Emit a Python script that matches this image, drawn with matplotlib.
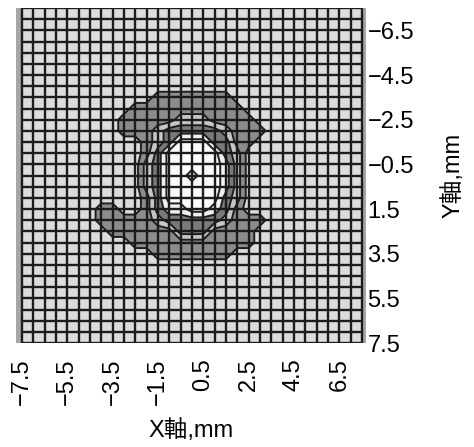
import numpy as np
import matplotlib
matplotlib.use("Agg")
import matplotlib.pyplot as plt

plt.rcParams['font.family'] = ['Liberation Sans', 'Noto Sans CJK JP', 'DejaVu Sans']

# band index at 0.5 mm steps (rows: Y from -7.5 to 7.5, cols: X from -7.5 to 7.5)
band_rows = [
    "0000000000000000000000000000000",
    "0000000000000000000000000000000",
    "0000000000000000000000000000000",
    "0000000000000000000000000000000",
    "0000000000000000000000000000000",
    "0000000000000000000000000000000",
    "0000000000000000000000000000000",
    "0000000000000000000000000000000",
    "0000000000001111111000000000000",
    "0000000000111111111100000000000",
    "0000000001111122211110000000000",
    "0000000001112333332111000000000",
    "0000000000012355533110000000000",
    "0000000000013555553200000000000",
    "0000000000023555554200000000000",
    "0000000000023554554200000000000",
    "0000000000023555554200000000000",
    "0000000000013555553200000000000",
    "0000000110013445543100000000000",
    "0000000111112333332111000000000",
    "0000000011111133311110000000000",
    "0000000000111111111110000000000",
    "0000000000001111111000000000000",
    "0000000000000000000000000000000",
    "0000000000000000000000000000000",
    "0000000000000000000000000000000",
    "0000000000000000000000000000000",
    "0000000000000000000000000000000",
    "0000000000000000000000000000000",
    "0000000000000000000000000000000",
    "0000000000000000000000000000000",
]
band_colors = ["#dcdcdc", "#8c8c8c", "#c6c6c6", "#7a7a7a", "#f0f0f0", "#fbfbfb"]

x_ticks = [-7.5, -5.5, -3.5, -1.5, 0.5, 2.5, 4.5, 6.5]
y_ticks = [-6.5, -4.5, -2.5, -0.5, 1.5, 3.5, 5.5, 7.5]
x_label = "X軸,mm"
y_label = "Y軸,mm"

Z = np.array([[int(c) for c in r] for r in band_rows], dtype=float)
ny, nx = Z.shape
xs = np.linspace(-7.5, 7.5, nx)
ys = np.linspace(-7.5, 7.5, ny)

fig = plt.figure(figsize=(4.74, 4.47), dpi=100)
ax = fig.add_axes([16 / 474, 1 - 343 / 447, 350 / 474, 335 / 447])

levels = np.arange(len(band_colors) + 1) - 0.5
ax.contourf(xs, ys, Z, levels=levels, colors=band_colors, zorder=1)
ax.contour(xs, ys, Z, levels=levels[1:-1], colors="#1e1e1e", linewidths=1.4, zorder=2)

# grid of cells
ax.vlines(xs, -7.5, 7.5, colors="#1c1c1c", linewidth=1.7, zorder=3)
ax.hlines(ys, -7.5, 7.5, colors="#1c1c1c", linewidth=1.7, zorder=3)

# side walls
ax.axvspan(-7.76, -7.5, color="#a6a6a6", zorder=0)
ax.axvspan(7.5, 7.68, color="#a6a6a6", zorder=0)

ax.set_xlim(-7.76, 7.68)
ax.set_ylim(7.5, -7.5)
for s in ax.spines.values():
    s.set_visible(False)

fmt = lambda v: f"{v:g}".replace("-", "\u2212")
ax.set_xticks(x_ticks)
ax.set_xticklabels([fmt(v) for v in x_ticks], rotation=90, va="top", ha="center", fontsize=17)
ax.set_yticks(y_ticks)
ax.set_yticklabels([fmt(v) for v in y_ticks], fontsize=17)
ax.yaxis.tick_right()
ax.tick_params(axis="x", length=0, pad=11)
ax.tick_params(axis="y", length=0, pad=1)

ax.set_xlabel(x_label, fontsize=17, labelpad=10)
ax.yaxis.set_label_position("right")
ax.set_ylabel(y_label, fontsize=17, labelpad=20)

fig.savefig("out.png", dpi=100)
